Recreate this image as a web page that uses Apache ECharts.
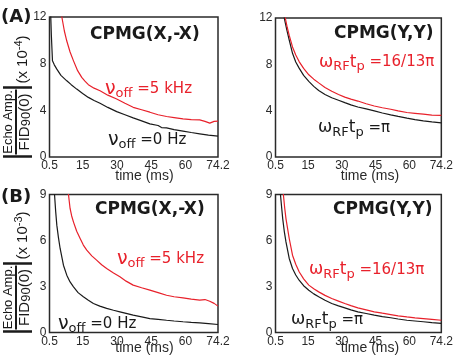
<!DOCTYPE html>
<html><head><meta charset="utf-8">
<script src="https://cdn.jsdelivr.net/npm/echarts@6/dist/echarts.min.js"></script>
<style>html,body{margin:0;padding:0;background:#fff}#c{width:456px;height:361px}</style>
</head><body><div id="c"></div>
<script>
// ---- data ----
const xTicks = [0.5, 15, 30, 45, 60, 74.2];
const yMaxA = 12, yStepA = 4;
const yMaxB = 9, yStepB = 3;

// Panel A left: CPMG(X,-X)
const aLeftBlack = [[0.9,13],[1.3,10.5],[1.8,8.24],[2.6,7.9],[3.7,7.53],[5.5,7.0],[8.06,6.53],[10,6.2],[12.4,5.82],[15,5.45],[17.5,5.11],[20,4.85],[22.6,4.6],[26,4.25],[29.9,3.89],[33.5,3.62],[37.1,3.35],[40.8,3.1],[44.4,2.84],[48,2.7],[49.5,2.52],[51.7,2.5],[55,2.35],[58.9,2.22],[62.5,2.1],[66.2,1.99],[70,1.88],[74.2,1.79]];
const aLeftRed = [[5.2,13.5],[5.9,12],[7,10.8],[8.06,9.94],[9.5,9.0],[11,8.24],[12.8,7.4],[14.6,6.82],[16,6.5],[17.5,6.2],[20,5.9],[22.6,5.68],[26,5.3],[29.9,4.97],[33.5,4.6],[37.1,4.26],[40.8,4.05],[44.4,3.84],[48,3.62],[51.7,3.47],[55,3.38],[58.9,3.27],[62.5,3.2],[66.2,3.18],[68.5,3.05],[70.6,2.9],[72.5,3.05],[74.2,3.07]];
// Panel A right: CPMG(Y,Y)
const aRightBlack = [[3.6,13.5],[4.4,12],[5.5,11],[6.6,10.1],[8.06,8.95],[9.5,8.2],[11,7.67],[13,7.05],[15.3,6.53],[17.5,6.1],[19.7,5.74],[22.5,5.4],[25.5,5.11],[28.5,4.9],[31.3,4.69],[34,4.5],[37.1,4.32],[40.8,4.15],[44.4,3.98],[48,3.8],[51.7,3.64],[55,3.5],[58.9,3.35],[62.5,3.22],[66.2,3.12],[70,3.03],[74.2,2.95]];
const aRightRed = [[4.0,13.5],[4.86,12],[5.7,11.2],[6.6,10.5],[8.06,9.5],[9.5,8.8],[11,8.24],[13,7.65],[15.3,7.1],[17.5,6.72],[19.7,6.4],[22.5,6.0],[25.5,5.68],[28.5,5.4],[31.3,5.17],[34,5.0],[37.1,4.83],[40.8,4.6],[44.4,4.4],[48,4.25],[51.7,4.12],[55,3.98],[58.9,3.84],[62.5,3.77],[66.2,3.7],[70,3.62],[74.2,3.6]];
// Panel B left: CPMG(X,-X)
const bLeftBlack = [[2.2,10],[2.7,9],[3.2,7.9],[3.7,7.0],[4.4,6.2],[5.15,5.48],[6.6,4.39],[8.06,3.74],[9.5,3.3],[11,2.98],[13,2.6],[15.3,2.33],[17.5,2.1],[19.7,1.89],[22.5,1.72],[25.5,1.57],[28.5,1.45],[31.3,1.35],[34,1.25],[37.1,1.13],[40.8,1.02],[44.4,0.91],[48,0.86],[51.7,0.8],[55,0.75],[58.9,0.7],[62.5,0.66],[66.2,0.63],[70,0.58],[74.2,0.52]];
const bLeftRed = [[8.3,10],[8.8,9],[9.5,8.09],[10.2,7.6],[11,7.2],[12.4,6.6],[13.9,6.13],[15.3,5.7],[16.8,5.37],[19,5.0],[21.1,4.72],[23.3,4.42],[25.5,4.17],[28.5,3.88],[31.3,3.63],[34,3.35],[37.1,3.09],[40.8,2.92],[44.4,2.76],[48,2.6],[51.7,2.43],[55,2.33],[58.9,2.26],[62.5,2.18],[66.2,2.11],[68.5,2.15],[70.6,2.04],[72.5,1.9],[74.2,1.72]];
// Panel B right: CPMG(Y,Y)
const bRightBlack = [[2.2,10],[2.7,9],[3.2,8.2],[3.7,7.43],[4.4,6.6],[5.15,5.91],[6.6,4.83],[8.06,4.17],[9.5,3.75],[11,3.41],[13,3.05],[15.3,2.76],[17.5,2.52],[19.7,2.33],[22.5,2.1],[25.5,1.89],[28.5,1.74],[31.3,1.61],[34,1.48],[37.1,1.35],[40.8,1.24],[44.4,1.13],[48,1.04],[51.7,0.96],[55,0.88],[58.9,0.8],[62.5,0.75],[66.2,0.7],[70,0.64],[74.2,0.59]];
const bRightRed = [[3.4,10],[4.0,9],[4.6,8.1],[5.15,7.43],[6.6,6.13],[8.06,5.04],[9.5,4.45],[11,3.96],[13,3.5],[15.3,3.09],[17.5,2.85],[19.7,2.65],[22.5,2.42],[25.5,2.22],[28.5,2.05],[31.3,1.89],[34,1.75],[37.1,1.61],[40.8,1.48],[44.4,1.35],[48,1.26],[51.7,1.17],[55,1.09],[58.9,1.02],[62.5,0.96],[66.2,0.91],[70,0.86],[74.2,0.8]];

// ---- layout ----
const RED = '#e8212b', BLK = '#1a1a1a', AX = '#2a2a2a';
const grids = [
  {left:49.5, top:17, width:168.5, height:140},
  {left:275.5, top:18, width:168.5, height:139},
  {left:49.5, top:194.5, width:168.5, height:138},
  {left:275.5, top:194.5, width:168.5, height:138}
];
const yMax = [yMaxA, yMaxA, yMaxB, yMaxB];
const yStep = [yStepA, yStepA, yStepB, yStepB];
const seriesData = [[aLeftBlack, aLeftRed],[aRightBlack, aRightRed],[bLeftBlack, bLeftRed],[bRightBlack, bRightRed]];

const lblFont = 'Liberation Sans, Arial, sans-serif';
const dv = 'DejaVu Sans';

function txt(x, y, text, o) {
  return Object.assign({type:'text', x, y, silent:true, z:100,
    style: Object.assign({text, fill:BLK, align:'left', verticalAlign:'middle'}, o.style)}, o.el || {});
}
function nuLabel(x, y, tail, color) {
  return txt(x, y, '{g|ν}{s|off}{m| =' + tail + '}', {style:{fill:color, rich:{
    g:{fontFamily:dv, fontSize:19, fill:color},
    s:{fontFamily:dv, fontSize:13, fill:color, padding:[10,0,0,0]},
    m:{fontFamily:dv, fontSize:15, fill:color}}}});
}
function omLabel(x, y, tail, color) {
  return txt(x, y, '{g|ω}{s|RF}{t|t}{s|p}{m| =' + tail + '}', {style:{fill:color, rich:{
    g:{fontFamily:dv, fontSize:17, fill:color},
    s:{fontFamily:dv, fontSize:13, fill:color, padding:[9,0,0,0]},
    t:{fontFamily:dv, fontSize:17, fill:color},
    m:{fontFamily:dv, fontSize:15, fill:color}}}});
}
function yLabel(barTop, barBot, exp) {
  const mid = (barTop + barBot) / 2;
  const els = [];
  els.push(txt(8.5, mid, 'Echo Amp.', {style:{fontFamily:lblFont, fontSize:13, align:'center'}, el:{rotation:Math.PI/2}}));
  els.push(txt(24.5, mid, '{a|FID}{b|90}{a|(0)}', {style:{align:'center', rich:{
    a:{fontFamily:lblFont, fontSize:15, fill:BLK}, b:{fontFamily:lblFont, fontSize:13, fill:BLK, padding:[3,0,0,0]}}}, el:{rotation:Math.PI/2}}));
  els.push({type:'line', silent:true, z:100, shape:{x1:16, y1:barTop+2, x2:16, y2:barBot-2}, style:{stroke:BLK, lineWidth:2}});
  els.push({type:'line', silent:true, z:100, shape:{x1:3, y1:barTop, x2:32, y2:barTop}, style:{stroke:BLK, lineWidth:2.5}});
  els.push({type:'line', silent:true, z:100, shape:{x1:3, y1:barBot, x2:32, y2:barBot}, style:{stroke:BLK, lineWidth:2.5}});
  els.push(txt(22.5, barTop - 28, '{a|(x 10}{b|' + exp + '}{a|)}', {style:{align:'center', rich:{
    a:{fontFamily:lblFont, fontSize:15, fill:BLK}, b:{fontFamily:lblFont, fontSize:11, fill:BLK, padding:[0,0,8,0]}}}, el:{rotation:Math.PI/2}}));
  return els;
}

const graphics = [
  txt(1, 17.5, '(A)', {style:{fontFamily:dv, fontWeight:'bold', fontSize:18}}),
  txt(1, 197.5, '(B)', {style:{fontFamily:dv, fontWeight:'bold', fontSize:18}}),
  txt(90, 34.5, 'CPMG(X,-X)', {style:{fontFamily:dv, fontWeight:'bold', fontSize:17}}),
  txt(334, 33.5, 'CPMG(Y,Y)', {style:{fontFamily:dv, fontWeight:'bold', fontSize:17}}),
  txt(95, 210, 'CPMG(X,-X)', {style:{fontFamily:dv, fontWeight:'bold', fontSize:17}}),
  txt(333, 210, 'CPMG(Y,Y)', {style:{fontFamily:dv, fontWeight:'bold', fontSize:17}}),
  nuLabel(105, 89, '5 kHz', RED),
  nuLabel(108, 140, '0 Hz', BLK),
  nuLabel(117, 259, '5 kHz', RED),
  nuLabel(58, 324, '0 Hz', BLK),
  omLabel(319, 62.5, '16/13π', RED),
  omLabel(318, 128, 'π', BLK),
  omLabel(309, 270, '16/13π', RED),
  omLabel(291, 320, 'π', BLK),
  txt(144.5, 176, 'time (ms)', {style:{fontFamily:lblFont, fontSize:14, align:'center', fill:AX}}),
  txt(370, 176, 'time (ms)', {style:{fontFamily:lblFont, fontSize:14, align:'center', fill:AX}}),
  txt(144.5, 348, 'time (ms)', {style:{fontFamily:lblFont, fontSize:14, align:'center', fill:AX}}),
  txt(370, 348, 'time (ms)', {style:{fontFamily:lblFont, fontSize:14, align:'center', fill:AX}})
].concat(yLabel(87.5, 156.5, '-4'), yLabel(263.5, 331.5, '-3'));

const option = {
  animation: false,
  backgroundColor: '#fff',
  grid: grids.map(g => Object.assign({show:true, borderColor:AX, borderWidth:1.5, backgroundColor:'transparent'}, g)),
  xAxis: grids.map((g, i) => ({
    type:'value', gridIndex:i, min:0.5, max:74.2,
    axisLine:{show:false}, axisTick:{show:false}, splitLine:{show:false},
    axisLabel:{customValues:xTicks, fontFamily:lblFont, fontSize:12, color:AX, margin:3,
      formatter: v => String(v)}
  })),
  yAxis: grids.map((g, i) => ({
    type:'value', gridIndex:i, min:0, max:yMax[i], interval:yStep[i],
    axisLine:{show:false}, axisTick:{show:false}, splitLine:{show:false},
    axisLabel:{fontFamily:lblFont, fontSize:12, color:AX, margin:3}
  })),
  series: seriesData.flatMap((pair, i) => [
    {type:'line', xAxisIndex:i, yAxisIndex:i, data:pair[0], showSymbol:false, clip:true, silent:true,
      lineStyle:{color:BLK, width:1.2}, itemStyle:{color:BLK}, z:3},
    {type:'line', xAxisIndex:i, yAxisIndex:i, data:pair[1], showSymbol:false, clip:true, silent:true,
      lineStyle:{color:RED, width:1.2}, itemStyle:{color:RED}, z:4}
  ]),
  graphic: graphics
};
const chart = echarts.init(document.getElementById('c'), null, {renderer:'canvas'});
chart.setOption(option);
</script>
</body></html>
